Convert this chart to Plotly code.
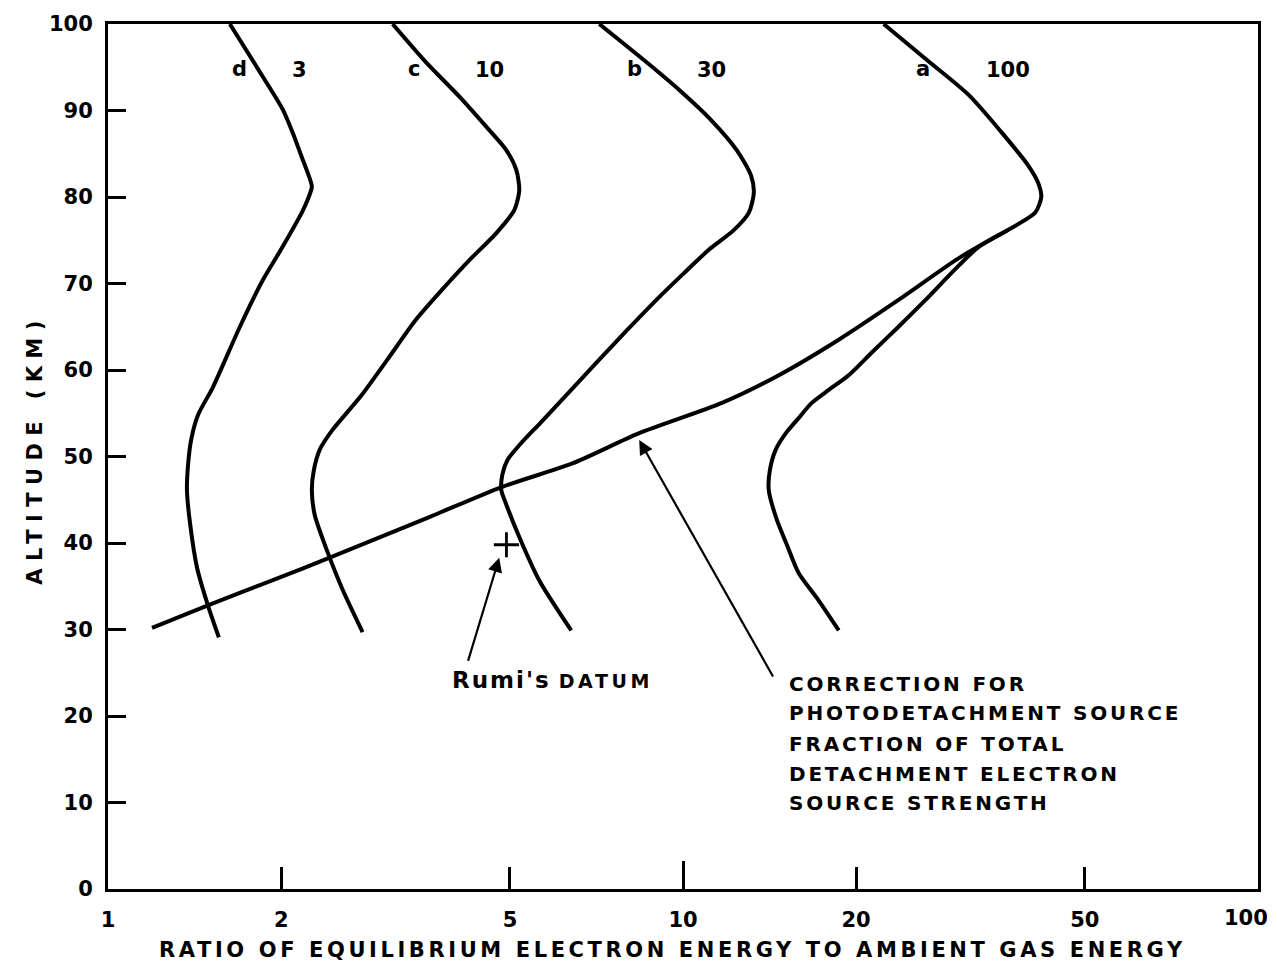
import numpy as np
import plotly.graph_objects as go

# ---- data (ratio on log x, altitude km on y) ----
alt_d = [100.0, 93.9, 90.1, 87.4, 84.6, 82.8, 81.2, 79.7, 78.2, 73.9, 70.4, 65.0, 58.0, 54.8, 51.9, 49.0, 46.1, 42.3, 37.2, 32.8, 29.1]
ratio_d = [1.628, 1.858, 2.013, 2.095, 2.172, 2.224, 2.261, 2.224, 2.172, 1.997, 1.858, 1.695, 1.521, 1.433, 1.394, 1.377, 1.371, 1.388, 1.427, 1.491, 1.558]

alt_c = [100.0, 95.5, 91.6, 88.1, 85.4, 83.1, 80.8, 78.5, 75.8, 72.7, 69.2, 65.8, 61.2, 57.1, 53.1, 50.8, 48.4, 46.1, 43.2, 39.2, 34.6, 29.7]
ratio_c = [3.125, 3.58, 4.084, 4.55, 4.93, 5.13, 5.19, 5.09, 4.73, 4.25, 3.80, 3.43, 3.06, 2.761, 2.458, 2.334, 2.279, 2.261, 2.288, 2.400, 2.558, 2.771]

alt_b = [100.0, 95.8, 92.4, 88.9, 85.4, 82.5, 80.5, 78.2, 76.2, 73.9, 71.2, 68.4, 64.6, 61.2, 57.7, 53.9, 51.3, 49.6, 47.9, 46.1, 44.4, 40.7, 35.7, 29.9]
ratio_b = [7.15, 8.56, 9.84, 11.19, 12.41, 13.13, 13.28, 13.02, 12.27, 11.09, 10.04, 9.08, 7.99, 7.15, 6.39, 5.65, 5.19, 4.95, 4.85, 4.83, 4.93, 5.19, 5.62, 6.39]

alt_a = [100.0, 95.8, 91.8, 87.5, 83.6, 81.6, 80.0, 78.2, 76.2, 74.2, 71.2, 68.1, 65.0, 62.0, 59.4, 57.7, 56.2, 54.2, 52.7, 50.8, 48.4, 46.1, 42.7, 39.8, 36.5, 33.4, 29.9]
ratio_a = [22.34, 26.6, 31.4, 35.8, 39.9, 41.5, 42.0, 41.0, 36.8, 32.65, 29.3, 26.42, 23.71, 21.28, 19.42, 17.93, 16.75, 15.78, 15.1, 14.5, 14.16, 14.1, 14.56, 15.16, 15.9, 17.2, 18.66]

alt_corr = [30.2, 32.8, 35.7, 38.3, 43.0, 46.5, 49.2, 52.7, 56.2, 59.4, 63.5, 68.1, 72.9, 76.2]
ratio_corr = [1.192, 1.491, 1.934, 2.429, 3.62, 4.85, 6.42, 8.39, 11.69, 14.68, 18.66, 23.71, 30.14, 36.8]

rumi_ratio = [4.93]
rumi_alt = [39.8]

curve_letters = ["d", "c", "b", "a"]
curve_params = ["3", "10", "30", "100"]
letter_x = [1.695, 3.41, 8.25, 26.2]
param_x = [2.154, 4.60, 11.19, 36.8]
label_alt = 94.8

x_tickvals = [1, 2, 5, 10, 20, 50, 100]
x_ticktext = ["1", "2", "5", "10", "20", "50", ""]
x_last_label = "100"
x_major_tick = [10]
y_tickvals = [0, 10, 20, 30, 40, 50, 60, 70, 80, 90, 100]

x_title = "RATIO OF EQUILIBRIUM ELECTRON ENERGY TO AMBIENT GAS ENERGY"
y_title = "ALTITUDE (KM)"

correction_lines = ["CORRECTION FOR", "PHOTODETACHMENT SOURCE", "FRACTION OF TOTAL",
                    "DETACHMENT ELECTRON", "SOURCE STRENGTH"]
correction_alts = [23.7, 20.3, 16.8, 13.3, 10.0]

FONT = "DejaVu Sans"
LW = 4

fig = go.Figure()
for xs, ys in [(ratio_d, alt_d), (ratio_c, alt_c), (ratio_b, alt_b), (ratio_a, alt_a), (ratio_corr, alt_corr)]:
    fig.add_trace(go.Scatter(x=xs, y=ys, mode="lines",
                             line=dict(color="black", width=LW, shape="spline", smoothing=0.7),
                             showlegend=False, hoverinfo="skip"))

fig.add_trace(go.Scatter(x=rumi_ratio, y=rumi_alt, mode="markers",
                         marker=dict(symbol="cross-thin", size=18, line=dict(color="black", width=2.8)),
                         showlegend=False, hoverinfo="skip"))

# invisible trace on the overlay axis so the longer "10" tick is drawn
fig.add_trace(go.Scatter(x=x_major_tick, y=[None], xaxis="x2", mode="markers",
                         showlegend=False, hoverinfo="skip"))

ann = []
for lx, px_, l, p in zip(letter_x, param_x, curve_letters, curve_params):
    ann.append(dict(x=np.log10(lx), y=label_alt, text=l, showarrow=False,
                    font=dict(family=FONT, size=21, color="black", weight="bold")))
    ann.append(dict(x=np.log10(px_), y=label_alt - 0.1, text=p, showarrow=False,
                    font=dict(family=FONT, size=21, color="black", weight="bold")))

# Rumi's datum label and arrow
ann.append(dict(x=np.log10(5.93), y=24.2,
                text="<span style='letter-spacing:2px'>Rumi's</span> <span style='font-size:19px;letter-spacing:3.6px'>DATUM</span>",
                showarrow=False, font=dict(family=FONT, size=23, color="black", weight="bold")))
ann.append(dict(x=np.log10(4.79), y=38.3, ax=np.log10(4.22), ay=26.2, axref="x", ayref="y", xref="x", yref="y",
                text="", showarrow=True, arrowhead=2, arrowsize=1.3, arrowwidth=2.2, arrowcolor="black"))
# correction arrow
ann.append(dict(x=np.log10(8.39), y=51.9, ax=np.log10(14.39), ay=24.4, axref="x", ayref="y", xref="x", yref="y",
                text="", showarrow=True, arrowhead=2, arrowsize=1.3, arrowwidth=2.2, arrowcolor="black"))

for t, a in zip(correction_lines, correction_alts):
    ann.append(dict(x=np.log10(15.16), y=a, text="<span style='letter-spacing:2.8px'>" + t + "</span>",
                    showarrow=False, xanchor="left", font=dict(family=FONT, size=20, color="black", weight="bold")))

# last x tick label, kept inside the page
ann.append(dict(xref="x", yref="paper", x=np.log10(x_tickvals[-1]), y=-0.0335, xanchor="right", yanchor="middle",
                xshift=12, text=x_last_label, showarrow=False,
                font=dict(family=FONT, size=21, color="black", weight="bold")))

# axis titles as annotations
ann.append(dict(xref="paper", yref="paper", x=0.491, y=-0.0705, xanchor="center", yanchor="middle",
                text="<span style='letter-spacing:3.6px'>" + x_title + "</span>", showarrow=False,
                font=dict(family=FONT, size=21, color="black", weight="bold")))
ann.append(dict(xref="paper", yref="y", x=-0.0635, y=50.9, xanchor="center", yanchor="middle",
                textangle=-90, showarrow=False,
                text="<span style='letter-spacing:7.4px'>" + y_title + "</span>",
                font=dict(family=FONT, size=21, color="black", weight="bold")))

fig.update_layout(
    width=1269, height=958,
    margin=dict(l=100, r=19, t=16, b=77),
    paper_bgcolor="white", plot_bgcolor="white",
    annotations=ann,
    showlegend=False,
    font=dict(family=FONT, color="black"),
    xaxis2=dict(type="log", range=[-0.0003, 2.0003], overlaying="x", anchor="y", side="bottom",
                tickvals=x_major_tick, ticks="inside", ticklen=28, tickwidth=2.5, tickcolor="black",
                showticklabels=False, showline=False, showgrid=False, zeroline=False, automargin=False),
)
fig.update_xaxes(selector=dict(overlaying=None))
fig.layout.xaxis.update(type="log", range=[-0.0003, 2.0003], tickvals=x_tickvals, ticktext=x_ticktext,
                        ticks="inside", ticklen=22, tickwidth=2.5, tickcolor="black",
                        showline=True, linewidth=3, linecolor="black", mirror=True, automargin=False,
                        showgrid=False, zeroline=False, ticklabelstandoff=10,
                        tickfont=dict(family=FONT, size=21, color="black", weight="bold"))
fig.layout.yaxis.update(range=[0, 100], tickvals=y_tickvals,
                        ticks="inside", ticklen=18, tickwidth=2.5, tickcolor="black",
                        showline=True, linewidth=3, linecolor="black", mirror=True, automargin=False,
                        showgrid=False, zeroline=False, ticklabelstandoff=8,
                        tickfont=dict(family=FONT, size=21, color="black", weight="bold"))

fig.write_html("out.html")
